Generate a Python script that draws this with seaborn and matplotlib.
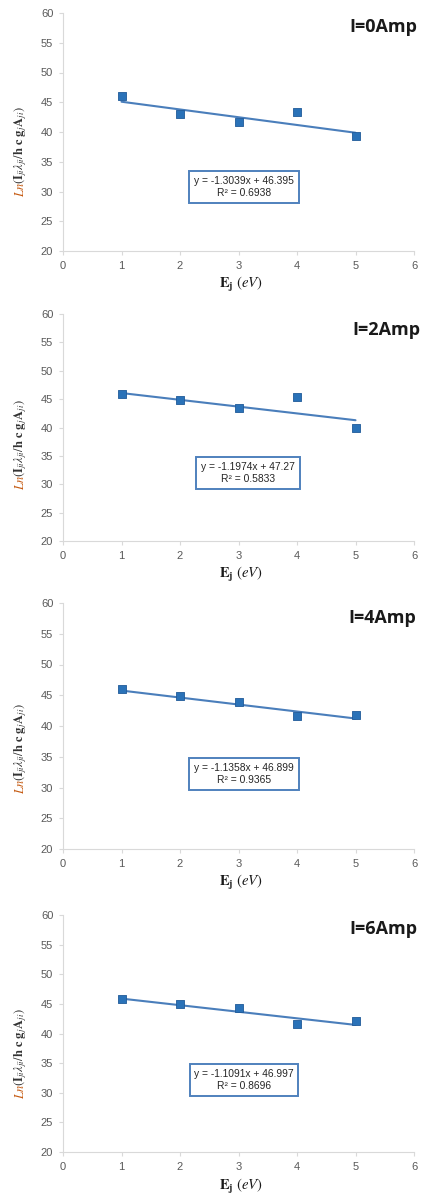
import numpy as np
import pandas as pd
import matplotlib
matplotlib.use("Agg")
import matplotlib.pyplot as plt
import seaborn as sns

# ---- data ----
energy = [1, 2, 3, 4, 5]
currents = ["I=0Amp", "I=2Amp", "I=4Amp", "I=6Amp"]
y_0amp = [46.1, 43.0, 41.65, 43.4, 39.25]
y_2amp = [45.9, 44.8, 43.35, 45.3, 39.85]
y_4amp = [45.95, 44.8, 43.85, 41.7, 41.75]
y_6amp = [45.8, 45.05, 44.25, 41.6, 42.1]
slopes = [-1.3039, -1.1974, -1.1358, -1.1091]
intercepts = [46.395, 47.27, 46.899, 46.997]
r2 = [0.6938, 0.5833, 0.9365, 0.8696]
eq_texts = ["y = -1.3039x + 46.395\nR² = 0.6938",
            "y = -1.1974x + 47.27\nR² = 0.5833",
            "y = -1.1358x + 46.899\nR² = 0.9365",
            "y = -1.1091x + 46.997\nR² = 0.8696"]
x_ticks = [0, 1, 2, 3, 4, 5, 6]
y_ticks = [20, 25, 30, 35, 40, 45, 50, 55, 60]

series = [y_0amp, y_2amp, y_4amp, y_6amp]

sns.set_theme(style="white")
plt.rcParams["font.family"] = ["Liberation Sans", "DejaVu Sans"]
plt.rcParams["mathtext.fontset"] = "stix"

W, H = 428, 1202
fig = plt.figure(figsize=(W / 100, H / 100), dpi=100)

# axes pixel boxes: (left, top, right, bottom)
boxes = [(63, 13, 414, 251), (63, 314, 414, 541), (63, 603, 414, 849), (63, 915, 414, 1152)]
title_pos = [(417, 27), (420, 330), (416, 618), (417, 929)]
eq_pos = [(244, 187), (248, 473), (244, 774), (244, 1080)]

line_color = "#4A7EBB"
marker_color = "#2A72B8"
tick_color = "#595959"
spine_color = "#D9D9D9"

for i, ys in enumerate(series):
    l, t, r, b = boxes[i]
    ax = fig.add_axes([l / W, 1 - b / H, (r - l) / W, (b - t) / H])
    df = pd.DataFrame({"E": energy, "y": ys})
    fit = pd.DataFrame({"E": [energy[0], energy[-1]]})
    fit["y"] = slopes[i] * fit["E"] + intercepts[i]
    sns.lineplot(data=fit, x="E", y="y", ax=ax, color=line_color, linewidth=1.5)
    sns.scatterplot(data=df, x="E", y="y", ax=ax, marker="s", s=34, color=marker_color,
                    edgecolor="#1F5A99", linewidth=0.6, zorder=3)
    ax.set_xlim(0, 6)
    ax.set_ylim(20, 60)
    ax.set_xticks(x_ticks)
    ax.set_yticks(y_ticks)
    ax.set_xlabel("")
    ax.set_ylabel("")
    for s in ["top", "right"]:
        ax.spines[s].set_visible(False)
    for s in ["left", "bottom"]:
        ax.spines[s].set_color(spine_color)
        ax.spines[s].set_linewidth(0.8)
    ax.tick_params(axis="both", which="major", length=3, width=0.8, color=spine_color,
                   labelsize=8, labelcolor=tick_color, pad=4, direction="out")
    ax.tick_params(axis="x", bottom=True)
    ax.tick_params(axis="y", left=True)
    ax.grid(False)

    # equation box
    ex, ey = eq_pos[i]
    fig.text(ex / W, 1 - ey / H, eq_texts[i], ha="center", va="center", fontsize=7.4,
             color="#262626", linespacing=1.35,
             bbox=dict(boxstyle="square,pad=0.45", fc="white", ec="#4F81BD", lw=1.4))

    # panel title
    tx, ty = title_pos[i]
    fig.text(tx / W, 1 - ty / H, currents[i], ha="right", va="center", fontsize=13,
             fontweight="bold", color="#1A1A1A", family=["Open Sans", "DejaVu Sans"])

    # x label
    fig.text(((l + r) / 2 + 3) / W, 1 - (b + 34) / H, r"$\mathbf{E}_{\mathbf{j}}\ (\mathit{eV})$",
             ha="center", va="center", fontsize=10.5, color="#1A1A1A")

    # y label in two colors
    ln_bottom = t + (b - t) * 0.775
    fig.text(20 / W, 1 - ln_bottom / H, r"$\mathit{Ln}$", rotation=90, ha="center", va="bottom",
             fontsize=9, color="#C55A11")
    fig.text(21 / W, 1 - (ln_bottom - 13) / H,
             r"$\left(\mathbf{I}_{ji}\lambda_{ji}/\mathbf{h}\ \mathbf{c}\ \mathbf{g}_{j}\mathbf{A}_{ji}\right)$",
             rotation=90, ha="center", va="bottom", fontsize=9, color="#333333")

fig.savefig("out.png", dpi=100, facecolor="white")
